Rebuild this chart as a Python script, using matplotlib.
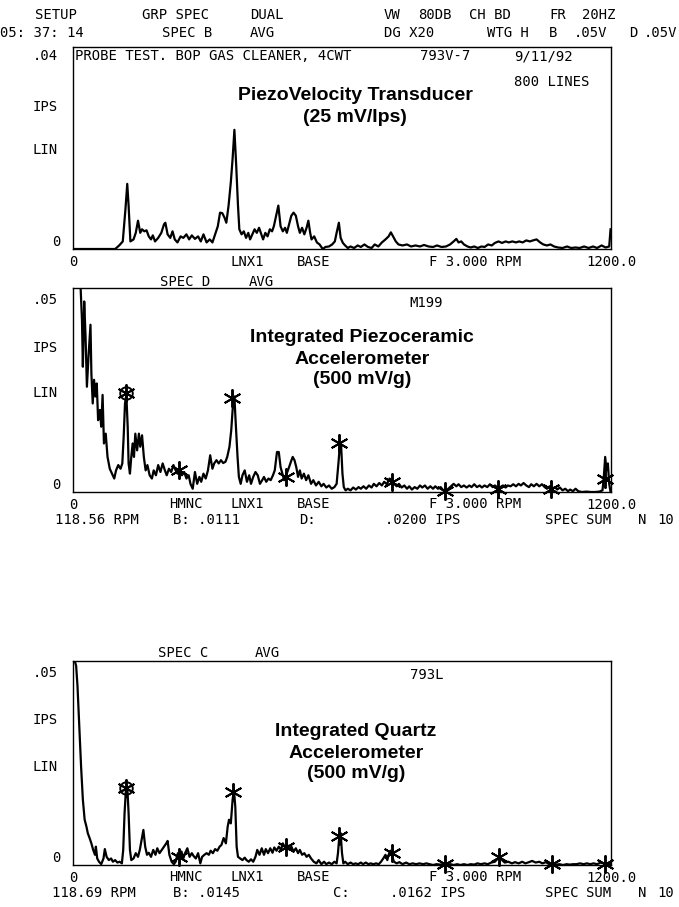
import matplotlib
matplotlib.use("Agg")
import matplotlib.pyplot as plt
import numpy as np

# ---------------- data (IPS vs RPM) ----------------
freq1 = [0, 94, 103, 111, 117, 121, 124, 128, 135, 140,
         145, 150, 154, 159, 164, 169, 174, 178, 183, 190,
         197, 203, 206, 211, 217, 222, 227, 233, 240, 246,
         253, 259, 265, 272, 279, 285, 291, 298, 305, 311,
         317, 323, 328, 333, 338, 342, 347, 352, 356, 360,
         364, 368, 371, 376, 381, 386, 391, 395, 400, 405,
         410, 415, 420, 424, 429, 434, 439, 444, 448, 453,
         458, 463, 468, 473, 477, 482, 487, 492, 497, 502,
         506, 511, 516, 521, 525, 529, 532, 538, 544, 550,
         557, 563, 571, 578, 584, 588, 593, 597, 602, 607,
         613, 619, 627, 635, 642, 650, 658, 666, 673, 681,
         689, 697, 704, 709, 714, 720, 726, 735, 745, 754,
         764, 774, 783, 793, 803, 812, 822, 832, 841, 849,
         855, 860, 866, 872, 880, 887, 895, 903, 911, 918,
         926, 934, 941, 949, 957, 965, 972, 980, 988, 995,
         1003, 1011, 1019, 1026, 1034, 1042, 1049, 1057, 1065, 1073,
         1082, 1092, 1102, 1111, 1121, 1130, 1140, 1150, 1160, 1169,
         1179, 1188, 1196, 1199]
amp1 = [0, 0, 0.0007, 0.0015, 0.0079, 0.0129, 0.0086, 0.0015, 0.0019, 0.0032,
        0.0056, 0.0032, 0.0039, 0.0035, 0.0037, 0.0025, 0.0019, 0.0027, 0.0015, 0.0022,
        0.0032, 0.0049, 0.0052, 0.0029, 0.0022, 0.0035, 0.0019, 0.0013, 0.0025, 0.0022,
        0.0029, 0.0019, 0.0027, 0.0020, 0.0025, 0.0015, 0.0029, 0.0013, 0.0019, 0.0013,
        0.0029, 0.0045, 0.0072, 0.0071, 0.0062, 0.0052, 0.0086, 0.0132, 0.0179, 0.0236,
        0.0166, 0.0086, 0.0039, 0.0029, 0.0035, 0.0022, 0.0032, 0.0019, 0.0029, 0.0039,
        0.0032, 0.0042, 0.0029, 0.0019, 0.0032, 0.0025, 0.0039, 0.0035, 0.0045, 0.0066,
        0.0086, 0.0045, 0.0035, 0.0042, 0.0032, 0.0049, 0.0066, 0.0072, 0.0066, 0.0045,
        0.0032, 0.0042, 0.0029, 0.0042, 0.0056, 0.0032, 0.0019, 0.0025, 0.0013, 0.0009,
        0.0000, 0.0004, 0.0005, 0.0009, 0.0015, 0.0032, 0.0052, 0.0022, 0.0012, 0.0007,
        0.0002, 0.0005, 0.0002, 0.0007, 0.0004, 0.0009, 0.0004, 0.0002, 0.0009, 0.0005,
        0.0013, 0.0019, 0.0025, 0.0033, 0.0025, 0.0015, 0.0009, 0.0007, 0.0009, 0.0005,
        0.0007, 0.0005, 0.0008, 0.0005, 0.0004, 0.0007, 0.0004, 0.0005, 0.0009, 0.0015,
        0.0020, 0.0013, 0.0015, 0.0009, 0.0005, 0.0003, 0.0005, 0.0002, 0.0005, 0.0004,
        0.0009, 0.0007, 0.0012, 0.0015, 0.0012, 0.0015, 0.0013, 0.0015, 0.0013, 0.0015,
        0.0013, 0.0017, 0.0015, 0.0017, 0.0019, 0.0013, 0.0009, 0.0007, 0.0009, 0.0005,
        0.0003, 0.0002, 0.0005, 0.0002, 0.0003, 0.0002, 0.0005, 0.0002, 0.0005, 0.0002,
        0.0007, 0.0003, 0.0005, 0.0039]

freq2 = [0, 17, 20, 22, 25, 28, 31, 35, 39, 41,
         44, 47, 50, 53, 56, 60, 63, 66, 69, 73,
         77, 82, 87, 92, 96, 101, 106, 110, 113, 116,
         119, 122, 124, 127, 130, 133, 136, 139, 143, 147,
         150, 154, 158, 162, 166, 171, 176, 180, 185, 190,
         195, 200, 205, 209, 214, 219, 224, 229, 233, 238,
         243, 248, 253, 258, 262, 267, 272, 277, 282, 286,
         291, 296, 301, 306, 311, 315, 320, 325, 330, 335,
         340, 344, 349, 353, 357, 360, 363, 367, 370, 374,
         378, 383, 388, 393, 397, 402, 407, 412, 417, 422,
         426, 431, 436, 441, 446, 450, 455, 459, 463, 467,
         471, 475, 478, 482, 486, 490, 494, 498, 502, 506,
         510, 515, 520, 525, 531, 536, 542, 548, 554, 559,
         565, 571, 577, 583, 588, 592, 595, 598, 601, 604,
         608, 613, 619, 625, 631, 637, 642, 648, 654, 660,
         666, 671, 677, 683, 689, 694, 700, 706, 711, 716,
         722, 727, 733, 739, 745, 750, 756, 762, 768, 774,
         779, 785, 791, 797, 803, 808, 814, 820, 826, 831,
         837, 843, 849, 855, 860, 866, 872, 878, 884, 889,
         895, 901, 907, 912, 918, 924, 930, 936, 941, 947,
         953, 959, 965, 970, 976, 982, 988, 994, 999, 1005,
         1011, 1017, 1022, 1028, 1034, 1040, 1046, 1052, 1057, 1063,
         1069, 1075, 1080, 1086, 1092, 1098, 1104, 1109, 1115, 1121,
         1127, 1135, 1145, 1155, 1164, 1174, 1181, 1184, 1187, 1190,
         1193, 1196, 1199]
amp2 = [0.0600, 0.0500, 0.0422, 0.0307, 0.0467, 0.0381, 0.0258, 0.0340, 0.0410, 0.0291,
        0.0217, 0.0275, 0.0234, 0.0266, 0.0176, 0.0201, 0.0160, 0.0238, 0.0119, 0.0143,
        0.0086, 0.0057, 0.0045, 0.0033, 0.0053, 0.0066, 0.0057, 0.0070, 0.0135, 0.0217,
        0.0238, 0.0160, 0.0070, 0.0045, 0.0086, 0.0119, 0.0086, 0.0143, 0.0102, 0.0143,
        0.0111, 0.0139, 0.0086, 0.0053, 0.0066, 0.0041, 0.0033, 0.0053, 0.0041, 0.0066,
        0.0049, 0.0070, 0.0053, 0.0041, 0.0057, 0.0049, 0.0066, 0.0053, 0.0045, 0.0053,
        0.0041, 0.0049, 0.0033, 0.0041, 0.0020, 0.0008, 0.0049, 0.0020, 0.0037, 0.0025,
        0.0045, 0.0033, 0.0053, 0.0090, 0.0057, 0.0070, 0.0078, 0.0070, 0.0078, 0.0071,
        0.0074, 0.0086, 0.0111, 0.0152, 0.0217, 0.0234, 0.0168, 0.0086, 0.0037, 0.0020,
        0.0041, 0.0053, 0.0025, 0.0041, 0.0020, 0.0037, 0.0049, 0.0041, 0.0020, 0.0029,
        0.0037, 0.0025, 0.0033, 0.0029, 0.0041, 0.0053, 0.0098, 0.0098, 0.0061, 0.0045,
        0.0029, 0.0041, 0.0049, 0.0061, 0.0074, 0.0086, 0.0078, 0.0061, 0.0037, 0.0053,
        0.0033, 0.0045, 0.0029, 0.0041, 0.0020, 0.0029, 0.0016, 0.0025, 0.0014, 0.0020,
        0.0011, 0.0016, 0.0008, 0.0012, 0.0020, 0.0070, 0.0111, 0.0115, 0.0045, 0.0012,
        0.0004, 0.0008, 0.0004, 0.0011, 0.0006, 0.0012, 0.0008, 0.0014, 0.0008, 0.0016,
        0.0011, 0.0020, 0.0014, 0.0022, 0.0016, 0.0025, 0.0019, 0.0033, 0.0029, 0.0020,
        0.0014, 0.0020, 0.0011, 0.0016, 0.0008, 0.0014, 0.0006, 0.0012, 0.0008, 0.0016,
        0.0011, 0.0016, 0.0008, 0.0014, 0.0008, 0.0014, 0.0008, 0.0012, 0.0004, 0.0002,
        0.0008, 0.0014, 0.0020, 0.0014, 0.0019, 0.0012, 0.0016, 0.0011, 0.0016, 0.0012,
        0.0019, 0.0012, 0.0016, 0.0011, 0.0016, 0.0012, 0.0019, 0.0012, 0.0016, 0.0011,
        0.0012, 0.0016, 0.0011, 0.0016, 0.0014, 0.0019, 0.0014, 0.0020, 0.0016, 0.0022,
        0.0016, 0.0012, 0.0019, 0.0014, 0.0020, 0.0014, 0.0019, 0.0012, 0.0008, 0.0014,
        0.0008, 0.0012, 0.0006, 0.0011, 0.0004, 0.0008, 0.0002, 0.0006, 0.0002, 0.0008,
        0.0002, 0.0000, 0.0001, 0.0000, 0.0000, 0.0001, 0.0004, 0.0037, 0.0086, 0.0053,
        0.0070, 0.0020, 0.0000]

freq3 = [0, 3, 7, 10, 14, 18, 22, 26, 30, 33,
         37, 41, 45, 49, 51, 54, 58, 63, 68, 71,
         75, 80, 85, 89, 94, 99, 104, 109, 112, 115,
         118, 121, 124, 127, 130, 135, 140, 145, 149, 153,
         157, 161, 165, 169, 174, 179, 184, 188, 193, 198,
         203, 208, 211, 215, 220, 225, 229, 234, 238, 242,
         246, 250, 255, 260, 265, 269, 274, 279, 284, 288,
         293, 298, 303, 307, 312, 317, 322, 327, 331, 336,
         341, 345, 348, 352, 356, 359, 362, 365, 368, 373,
         378, 383, 387, 392, 397, 402, 407, 411, 416, 421,
         426, 430, 435, 440, 445, 449, 454, 459, 464, 468,
         473, 478, 483, 487, 492, 497, 502, 506, 511, 516,
         521, 526, 531, 537, 543, 548, 554, 560, 565, 571,
         577, 583, 588, 591, 594, 597, 600, 603, 607, 613,
         619, 625, 630, 636, 642, 647, 653, 659, 664, 670,
         676, 682, 687, 692, 697, 701, 704, 708, 712, 716,
         722, 728, 735, 743, 750, 758, 765, 773, 781, 788,
         796, 803, 811, 819, 826, 834, 842, 849, 857, 864,
         872, 880, 887, 895, 902, 910, 918, 925, 933, 941,
         946, 952, 958, 963, 971, 979, 986, 994, 1002, 1009,
         1017, 1024, 1032, 1040, 1047, 1055, 1062, 1070, 1078, 1085,
         1093, 1101, 1108, 1116, 1123, 1131, 1139, 1146, 1154, 1161,
         1169, 1177, 1184, 1190, 1200]
amp3 = [0.0600, 0.0504, 0.0488, 0.0439, 0.0340, 0.0242, 0.0160, 0.0111, 0.0094, 0.0078,
        0.0066, 0.0053, 0.0037, 0.0025, 0.0045, 0.0016, 0.0008, 0.0002, 0.0016, 0.0039,
        0.0020, 0.0012, 0.0016, 0.0008, 0.0012, 0.0006, 0.0008, 0.0004, 0.0037, 0.0127,
        0.0184, 0.0193, 0.0127, 0.0037, 0.0012, 0.0016, 0.0029, 0.0020, 0.0037, 0.0061,
        0.0086, 0.0045, 0.0025, 0.0030, 0.0020, 0.0037, 0.0025, 0.0041, 0.0029, 0.0037,
        0.0045, 0.0053, 0.0059, 0.0025, 0.0008, 0.0002, 0.0008, 0.0029, 0.0020, 0.0033,
        0.0016, 0.0029, 0.0041, 0.0020, 0.0029, 0.0022, 0.0016, 0.0029, 0.0004, 0.0020,
        0.0025, 0.0029, 0.0025, 0.0035, 0.0029, 0.0039, 0.0035, 0.0045, 0.0049, 0.0066,
        0.0053, 0.0094, 0.0111, 0.0102, 0.0160, 0.0184, 0.0143, 0.0045, 0.0020, 0.0016,
        0.0012, 0.0018, 0.0012, 0.0008, 0.0014, 0.0008, 0.0020, 0.0037, 0.0025, 0.0041,
        0.0025, 0.0039, 0.0029, 0.0041, 0.0030, 0.0043, 0.0035, 0.0045, 0.0037, 0.0053,
        0.0043, 0.0049, 0.0037, 0.0045, 0.0033, 0.0041, 0.0029, 0.0037, 0.0025, 0.0029,
        0.0020, 0.0025, 0.0016, 0.0008, 0.0004, 0.0012, 0.0002, 0.0008, 0.0002, 0.0006,
        0.0002, 0.0008, 0.0004, 0.0029, 0.0070, 0.0078, 0.0029, 0.0004, 0.0008, 0.0002,
        0.0006, 0.0002, 0.0004, 0.0002, 0.0006, 0.0002, 0.0006, 0.0002, 0.0004, 0.0002,
        0.0004, 0.0002, 0.0008, 0.0016, 0.0025, 0.0012, 0.0025, 0.0035, 0.0020, 0.0008,
        0.0004, 0.0007, 0.0002, 0.0006, 0.0002, 0.0004, 0.0002, 0.0004, 0.0002, 0.0004,
        0.0002, 0.0000, 0.0002, 0.0001, 0.0002, 0.0000, 0.0002, 0.0000, 0.0002, 0.0000,
        0.0002, 0.0000, 0.0002, 0.0001, 0.0004, 0.0002, 0.0004, 0.0002, 0.0006, 0.0008,
        0.0014, 0.0018, 0.0011, 0.0006, 0.0008, 0.0004, 0.0007, 0.0004, 0.0008, 0.0004,
        0.0007, 0.0010, 0.0006, 0.0008, 0.0004, 0.0007, 0.0002, 0.0004, 0.0001, 0.0002,
        0.0000, 0.0002, 0.0001, 0.0002, 0.0002, 0.0004, 0.0002, 0.0004, 0.0002, 0.0004,
        0.0002, 0.0006, 0.0004, 0.0002, 0.0002]

# harmonic cursor markers (fundamental RPM and marker amplitudes)
fund2 = 118.56
harm2 = [0.0242, 0.0053, 0.0230, 0.0037, 0.0119, 0.0025, 0.0002, 0.0008, 0.0008, 0.0033]
fund3 = 118.69
harm3 = [0.0189, 0.0020, 0.0180, 0.0045, 0.0070, 0.0029, 0.0002, 0.0020, 0.0002, 0.0002]

full1, full2, full3 = 0.04, 0.05, 0.05
x_ticks = [0, 1200]
x_ticklabels = ["0", "1200.0"]

# ---------------- layout ----------------
W, H = 679, 907
fig = plt.figure(figsize=(W / 100, H / 100), dpi=100)
fig.patch.set_facecolor("white")

MONO = "DejaVu Sans Mono"
FS = 10
TFONT = ["Liberation Sans Narrow", "Liberation Sans", "DejaVu Sans"]


def T(x, y, s, ha="left", **kw):
    fig.text(x / W, 1 - y / H, s, ha=ha, va="center", family=MONO,
             fontsize=kw.pop("fontsize", FS), color="black", **kw)


def TT(x, y, s):
    fig.text(x / W, 1 - y / H, s, ha="center", va="center", family=TFONT,
             fontweight="bold", fontsize=14, color="black")


def make_ax(top, bottom, ymax):
    ax = fig.add_axes([73 / W, 1 - bottom / H, 538 / W, (bottom - top) / H])
    ax.set_xlim(0, 1200)
    ax.set_ylim(0, ymax)
    ax.set_yticks([])
    ax.set_xticks(x_ticks, x_ticklabels, family=MONO, fontsize=FS)
    ax.tick_params(axis="x", length=0, pad=4)
    for sp in ax.spines.values():
        sp.set_linewidth(1.0)
        sp.set_color("black")
    return ax


ax1 = make_ax(47, 249, full1)
ax2 = make_ax(288, 492, full2)
ax3 = make_ax(661, 865, full3)

LW = 1.6
ax1.plot(freq1, amp1, color="black", lw=LW)
ax2.plot(freq2, amp2, color="black", lw=LW)
ax3.plot(freq3, amp3, color="black", lw=LW)

for ax, fund, harm in ((ax2, fund2, harm2), (ax3, fund3, harm3)):
    hx = [fund * (i + 1) for i in range(len(harm))]
    ax.plot(hx, harm, linestyle="none", marker=(6, 2, 0), markersize=13,
            markeredgewidth=1.4, color="black", clip_on=False)
    ax.plot(hx[:1], harm[:1], linestyle="none", marker="o", markersize=9,
            markerfacecolor="none", markeredgewidth=1.4, color="black")

# ---------------- header ----------------
T(35, 15, "SETUP"); T(142, 15, "GRP SPEC"); T(250, 15, "DUAL")
T(384, 15, "VW"); T(418, 15, "80DB"); T(469, 15, "CH BD")
T(549, 15, "FR"); T(582, 15, "20HZ")
T(0, 33, "05: 37: 14"); T(162, 33, "SPEC B"); T(250, 33, "AVG")
T(384, 33, "DG X20"); T(487, 33, "WTG H"); T(549, 33, "B")
T(574, 33, ".05V"); T(629, 33, "D"); T(644, 33, ".05V")

# ---------------- panel 1 ----------------
T(33, 56, ".04"); T(75, 56, "PROBE TEST. BOP GAS CLEANER, 4CWT")
T(420, 56, "793V-7"); T(514, 56, "9/11/92"); T(514, 82, "800 LINES")
T(33, 107, "IPS"); T(33, 150, "LIN"); T(52, 242, "0")
T(230, 262, "LNX1"); T(297, 262, "BASE"); T(429, 262, "F 3.000 RPM")
TT(355, 95, "PiezoVelocity Transducer"); TT(355, 117, "(25 mV/Ips)")

# ---------------- panel 2 ----------------
T(160, 282, "SPEC D"); T(249, 282, "AVG"); T(409, 303, "M199")
T(33, 300, ".05"); T(33, 348, "IPS"); T(33, 393, "LIN"); T(52, 485, "0")
T(169, 504, "HMNC"); T(230, 504, "LNX1"); T(297, 504, "BASE"); T(429, 504, "F 3.000 RPM")
T(55, 520, "118.56 RPM"); T(173, 520, "B: .0111"); T(299, 520, "D:")
T(385, 520, ".0200 IPS"); T(545, 520, "SPEC"); T(586, 520, "SUM"); T(638, 520, "N"); T(657, 520, "10")
TT(362, 338, "Integrated Piezoceramic"); TT(362, 360, "Accelerometer"); TT(362, 380, "(500 mV/g)")

# ---------------- panel 3 ----------------
T(158, 653, "SPEC C"); T(255, 653, "AVG"); T(410, 675, "793L")
T(33, 673, ".05"); T(33, 720, "IPS"); T(33, 767, "LIN"); T(52, 858, "0")
T(169, 877, "HMNC"); T(230, 877, "LNX1"); T(297, 877, "BASE"); T(429, 877, "F 3.000 RPM")
T(52, 893, "118.69 RPM"); T(173, 893, "B: .0145"); T(333, 893, "C:")
T(390, 893, ".0162 IPS"); T(545, 893, "SPEC"); T(586, 893, "SUM"); T(638, 893, "N"); T(657, 893, "10")
TT(356, 732, "Integrated Quartz"); TT(356, 753, "Accelerometer"); TT(356, 773, "(500 mV/g)")

fig.savefig("out.png", dpi=100, facecolor="white")
